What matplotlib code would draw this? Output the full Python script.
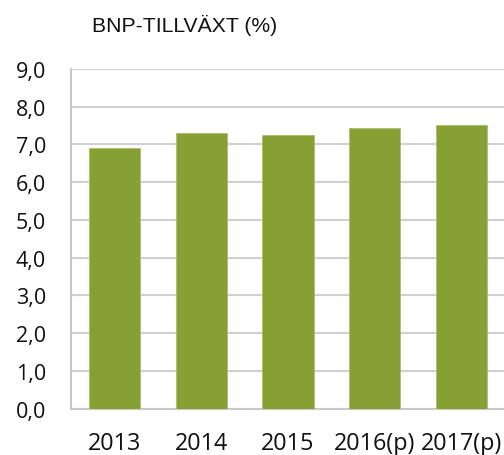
import matplotlib
matplotlib.use("Agg")
import matplotlib.pyplot as plt
from matplotlib.ticker import FuncFormatter

categories = ["2013", "2014", "2015", "2016(p)", "2017(p)"]
values = [6.9, 7.3, 7.25, 7.45, 7.52]
yticks = [0, 1, 2, 3, 4, 5, 6, 7, 8, 9]
title = "BNP-TILLVÄXT (%)"

fig = plt.figure(figsize=(5.04, 4.56), dpi=100)
ax = fig.add_axes([71/504, 46.3/456, 434/504, (409.7-70)/456])

x = list(range(len(categories)))
ax.bar(x, values, width=0.59, color="#86a033", edgecolor="#a8bf6a", linewidth=0.6, zorder=3)
ax.set_xlim(-0.5, len(categories) - 0.5)
ax.set_ylim(0, 9)
ax.set_yticks(yticks)
ax.yaxis.set_major_formatter(FuncFormatter(lambda v, p: f"{v:.1f}".replace(".", ",")))
ax.set_xticks(x)
ax.set_xticklabels(categories)
ax.grid(axis="y", color="#d0d0d0", linewidth=1.5, zorder=0)
for s in ["top", "right"]:
    ax.spines[s].set_visible(False)
for s in ["left", "bottom"]:
    ax.spines[s].set_color("#c8c8c8")
    ax.spines[s].set_linewidth(1.5)
ax.tick_params(length=0, colors="#111111")
ax.tick_params(axis="y", pad=18, labelsize=15.5)
ax.tick_params(axis="x", pad=16, labelsize=16.8)
for lab in ax.get_xticklabels() + ax.get_yticklabels():
    lab.set_fontfamily("Open Sans")

fig.text(92/504, 1 - 31.5/456, title, fontsize=15.2, family="Liberation Sans", color="#111111", ha="left", va="baseline")

fig.savefig("out.png", dpi=100)
